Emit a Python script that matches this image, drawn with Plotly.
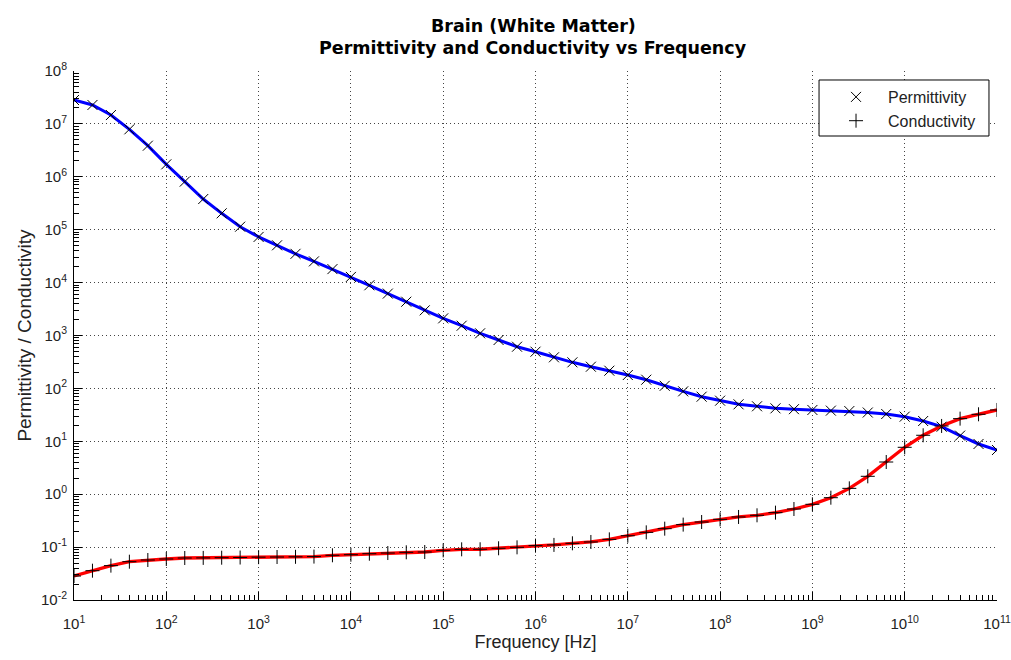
import numpy as np
import plotly.graph_objects as go

# Frequencies: 5 points per decade, 10 Hz .. 100 GHz (log10 exponents)
freq_exp = [1.0, 1.2, 1.4, 1.6, 1.8, 2.0, 2.2, 2.4, 2.6, 2.8,
            3.0, 3.2, 3.4, 3.6, 3.8, 4.0, 4.2, 4.4, 4.6, 4.8,
            5.0, 5.2, 5.4, 5.6, 5.8, 6.0, 6.2, 6.4, 6.6, 6.8,
            7.0, 7.2, 7.4, 7.6, 7.8, 8.0, 8.2, 8.4, 8.6, 8.8,
            9.0, 9.2, 9.4, 9.6, 9.8, 10.0, 10.2, 10.4, 10.6, 10.8, 11.0]
frequency = [10 ** e for e in freq_exp]

permittivity = [2.83e7, 2.28e7, 1.47e7, 7.9e6, 3.87e6, 1.72e6, 8.1e5, 3.8e5, 2.04e5, 1.14e5,
                7.3e4, 5.07e4, 3.5e4, 2.52e4, 1.8e4, 1.28e4, 8.9e3, 6.2e3, 4.35e3, 2.99e3,
                2110, 1530, 1100, 822, 614, 494, 387, 311, 257, 216,
                179, 146, 112, 88, 69.7, 58.6, 50, 45.9, 42, 40.5,
                39.1, 38, 37.3, 35, 32.8, 29.2, 24.2, 18.9, 12.8, 8.9, 6.85]

conductivity = [0.0284, 0.0358, 0.0446, 0.053, 0.057, 0.0596, 0.0622, 0.0625, 0.063, 0.0635,
                0.0645, 0.065, 0.0655, 0.0662, 0.070, 0.0718, 0.075, 0.0773, 0.0797, 0.0808,
                0.0869, 0.0908, 0.091, 0.095, 0.099, 0.1065, 0.110, 0.118, 0.125, 0.140,
                0.164, 0.190, 0.223, 0.266, 0.298, 0.335, 0.371, 0.399, 0.448, 0.525,
                0.644, 0.859, 1.29, 2.18, 4.06, 7.7, 13.0, 19.5, 26.8, 32.4, 39.1]

x_tick_exp = list(range(1, 12))
y_tick_exp = list(range(-2, 9))

title_line1 = "Brain (White Matter)"
title_line2 = "Permittivity and Conductivity vs Frequency"

FONT = "Liberation Sans, Arial, sans-serif"
TFONT = "DejaVu Sans, Liberation Sans, sans-serif"

fig = go.Figure()
fig.add_trace(go.Scatter(x=frequency, y=permittivity, mode="lines",
                         line=dict(color="#0000ff", width=3), showlegend=False, hoverinfo="skip"))
fig.add_trace(go.Scatter(x=frequency, y=conductivity, mode="lines",
                         line=dict(color="#ff0000", width=3.3), showlegend=False, hoverinfo="skip"))
fig.add_trace(go.Scatter(x=frequency, y=permittivity, mode="markers", name="Permittivity",
                         marker=dict(symbol="x-thin", size=10, color="black",
                                     line=dict(color="black", width=1))))
fig.add_trace(go.Scatter(x=frequency, y=conductivity, mode="markers", name="Conductivity",
                         marker=dict(symbol="cross-thin", size=10, color="black",
                                     line=dict(color="black", width=1))))

def minor_vals(lo, hi):
    v = []
    for k in range(lo, hi):
        for m in range(2, 10):
            v.append(m * 10 ** k)
    return v

axis_common = dict(
    type="log",
    showline=True, linecolor="black", linewidth=1,
    ticks="inside", ticklen=8, tickcolor="black", tickwidth=1,
    showgrid=True, gridcolor="#444444", griddash="1px,3px", gridwidth=1,
    zeroline=False, mirror=False, automargin=False,
    ticklabeloverflow="allow",
    tickfont=dict(family=FONT, size=15, color="#222222"),
)

fig.update_xaxes(**axis_common, range=[1, 11], tickmode="array",
                 tickvals=[10 ** e for e in x_tick_exp],
                 ticktext=["10<sup>%d</sup>" % e for e in x_tick_exp],
                 ticklabelstandoff=10,
                 minor=dict(ticks="inside", ticklen=5, tickcolor="black", tickmode="array",
                            tickvals=minor_vals(1, 11), showgrid=False),
                 title=dict(text="Frequency [Hz]", font=dict(family=FONT, size=18, color="#222222"),
                            standoff=0))
fig.update_yaxes(**axis_common, range=[-2, 8], tickmode="array",
                 tickvals=[10 ** e for e in y_tick_exp],
                 ticktext=["10<sup>%d</sup>" % e for e in y_tick_exp],
                 ticklabelstandoff=3,
                 minor=dict(ticks="inside", ticklen=5, tickcolor="black", tickmode="array",
                            tickvals=minor_vals(-2, 8), showgrid=False),
                 title=dict(text="Permittivity / Conductivity", font=dict(family=FONT, size=19, color="#222222"),
                            standoff=4))

fig.add_annotation(text="<b>%s</b>" % title_line1, xref="paper", yref="paper",
                   x=0.4975, y=1.0851, xanchor="center", yanchor="middle", showarrow=False,
                   font=dict(family=TFONT, size=17.5, color="black"))
fig.add_annotation(text="<b>%s</b>" % title_line2, xref="paper", yref="paper",
                   x=0.4975, y=1.0435, xanchor="center", yanchor="middle", showarrow=False,
                   font=dict(family=TFONT, size=17.5, color="black"))

# legend frame
fig.add_shape(type="rect", xref="paper", yref="paper", x0=0.8072, x1=0.9913, y0=0.8771, y1=0.9830,
              line=dict(color="black", width=1), fillcolor="white", layer="above")

fig.update_layout(
    width=1011, height=660,
    margin=dict(l=74, r=14, t=71, b=60),
    paper_bgcolor="white", plot_bgcolor="white",
    legend=dict(x=0.8126, y=0.983, xanchor="left", yanchor="top",
                bgcolor="rgba(0,0,0,0)", borderwidth=0,
                font=dict(family=FONT, size=16, color="#222222"),
                itemwidth=54, tracegroupgap=0),
)

fig.write_html("out.html")
